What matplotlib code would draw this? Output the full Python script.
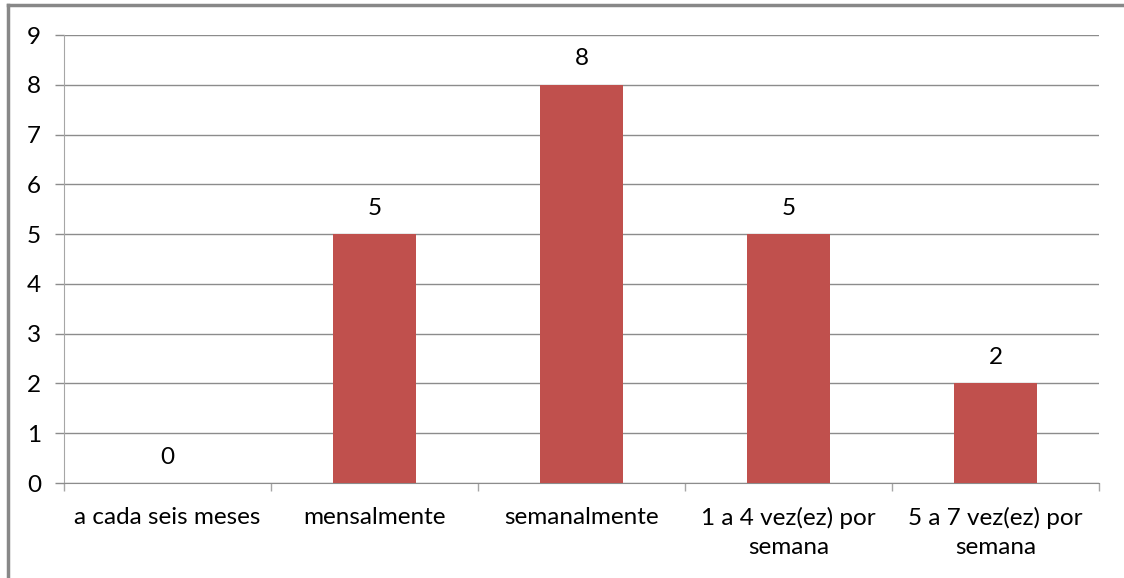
import matplotlib
matplotlib.use("Agg")
import matplotlib.pyplot as plt
from matplotlib.lines import Line2D

categories = ["a cada seis meses", "mensalmente", "semanalmente",
              "1 a 4 vez(ez) por\nsemana", "5 a 7 vez(ez) por\nsemana"]
values = [0, 5, 8, 5, 2]
y_ticks = list(range(0, 10))

plt.rcParams["font.family"] = ["Lato", "DejaVu Sans"]

W, H = 1124, 578
PX = 72 / 100  # points per pixel at 100 dpi
FS = 17.5

fig = plt.figure(figsize=(W / 100, H / 100), dpi=100)
ax = fig.add_axes([64 / W, 1 - 483 / H, (1099 - 64) / W, (483 - 35) / H])

bar_color = "#C0504D"
grid_color = "#8C8C8C"
axis_color = "#A6A6A6"

x = list(range(len(categories)))
ax.bar(x, values, width=0.4, color=bar_color, zorder=3)

ax.set_xlim(-0.5, len(categories) - 0.5)
ax.set_ylim(0, 9)
ax.set_yticks(y_ticks)
ax.set_yticklabels([str(v) for v in y_ticks], fontsize=FS, color="#000000")
ax.yaxis.grid(True, color=grid_color, linewidth=1.0, zorder=0)
ax.set_axisbelow(True)

# category labels centred on each slot, ticks at slot boundaries
ax.set_xticks(x)
ax.set_xticklabels(categories, fontsize=FS, color="#000000", linespacing=1.45)
ax.tick_params(axis="x", which="major", length=0, pad=24 * PX)
ax.set_xticks([i - 0.5 for i in range(len(categories) + 1)], minor=True)
ax.tick_params(axis="x", which="minor", length=8 * PX, color=axis_color, width=1)
ax.tick_params(axis="y", length=9 * PX, color=grid_color, width=1, pad=14 * PX)

for side in ("top", "right"):
    ax.spines[side].set_visible(False)
ax.spines["left"].set_color(axis_color)
ax.spines["bottom"].set_color(grid_color)

for xi, v in zip(x, values):
    ax.annotate(str(v), (xi, v), xytext=(0, 26 * PX), textcoords="offset points",
                ha="center", va="center", fontsize=FS, color="#000000")

# chart frame
fig.add_artist(Line2D([8 / W, 1], [1 - 5 / H, 1 - 5 / H], transform=fig.transFigure,
                      color="#888888", linewidth=2.5))
fig.add_artist(Line2D([8 / W, 8 / W], [0, 1 - 5 / H], transform=fig.transFigure,
                      color="#888888", linewidth=2.5))

fig.savefig("out.png", dpi=100, facecolor="white")
